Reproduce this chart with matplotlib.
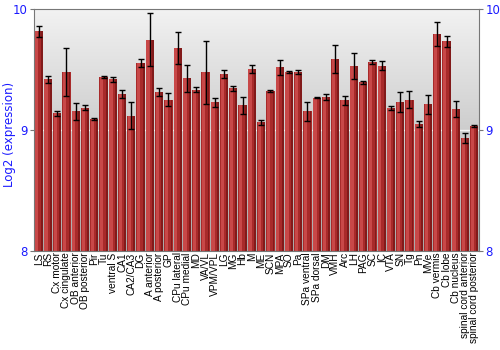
import matplotlib
matplotlib.use("Agg")
import matplotlib.pyplot as plt
import numpy as np

regions = ["LS", "RS", "Cx motor", "Cx cingulate", "OB anterior", "OB posterior",
           "Pir", "Tu", "ventral S", "CA1", "CA2/CA3", "DG", "A anterior",
           "A posterior", "GP", "CPu lateral", "CPu medial", "MD", "VA/VL",
           "VPM/VPL", "LG", "MG", "Hb", "M", "ME", "SCN", "MPA", "SO", "Pa",
           "SPa ventral", "SPa dorsal", "DM", "VMH", "Arc", "LH", "PAG", "SC",
           "IC", "VTA", "SN", "Tg", "Pn", "MVe", "Cb vermis", "Cb lobe",
           "Cb nucleus", "spinal cord anterior", "spinal cord posterior"]
expr = [9.82, 9.42, 9.14, 9.48, 9.157, 9.185, 9.089, 9.44, 9.42, 9.30, 9.12,
        9.555, 9.75, 9.315, 9.254, 9.68, 9.43, 9.337, 9.48, 9.23, 9.464, 9.348,
        9.207, 9.505, 9.066, 9.323, 9.52, 9.48, 9.48, 9.157, 9.268, 9.276,
        9.59, 9.249, 9.533, 9.398, 9.566, 9.533, 9.182, 9.232, 9.251, 9.052,
        9.215, 9.795, 9.737, 9.174, 8.936, 9.036]
err = [0.045, 0.032, 0.02, 0.20, 0.072, 0.02, 0.008, 0.008, 0.02, 0.033, 0.113,
       0.032, 0.217, 0.035, 0.055, 0.135, 0.11, 0.02, 0.26, 0.04, 0.035, 0.02,
       0.072, 0.032, 0.02, 0.007, 0.06, 0.008, 0.017, 0.08, 0.003, 0.025,
       0.115, 0.037, 0.11, 0.012, 0.014, 0.036, 0.018, 0.084, 0.07, 0.022,
       0.077, 0.10, 0.047, 0.068, 0.039, 0.008]

blue = "#1a1aff"
fig = plt.figure(figsize=(5, 3.5), dpi=100)
ax = fig.add_axes([0.068, 0.283, 0.89, 0.69])

x = np.arange(len(regions))
# grey gradient background
grad = np.linspace(0, 1, 256).reshape(-1, 1)
ax.imshow(grad, extent=(-0.5, len(regions) - 0.5, 8, 10), aspect="auto",
          cmap=matplotlib.colors.LinearSegmentedColormap.from_list("bg", ["#f2f2f2", "#a9a9a9"]),
          origin="upper", zorder=0)
ax.axhline(9, color="white", lw=1, alpha=0.8, zorder=1)

ax.bar(x, expr, width=0.89, bottom=0, color="#a82a2a", zorder=2)
ax.bar(x - 0.2, expr, width=0.35, color="#c84848", zorder=2)
ax.bar(x + 0.33, expr, width=0.2, color="#821a1a", zorder=2)
ax.errorbar(x, expr, yerr=err, fmt="none", ecolor="black", elinewidth=1,
            capsize=2, capthick=1, zorder=3)

ax.set_xlim(-0.5, len(regions) - 0.5)
ax.set_ylim(8, 10)
ax.set_xticks(x)
ax.set_xticklabels(regions, rotation=90, fontsize=7.3, family="Liberation Sans")
ax.tick_params(axis="x", length=0, pad=1)
ax.set_yticks([8, 9, 10])
ax.tick_params(axis="y", colors="#777777", labelcolor=blue, labelsize=8.5,
               left=True, right=True, labelright=True, length=3, pad=1.5)
fig.text(0.006, 0.615, "Log2 (expression)", color=blue, fontsize=8.5,
         rotation=90, ha="left", va="center")
for s in ax.spines.values():
    s.set_color("#777777")

fig.savefig("out.png", dpi=100)
